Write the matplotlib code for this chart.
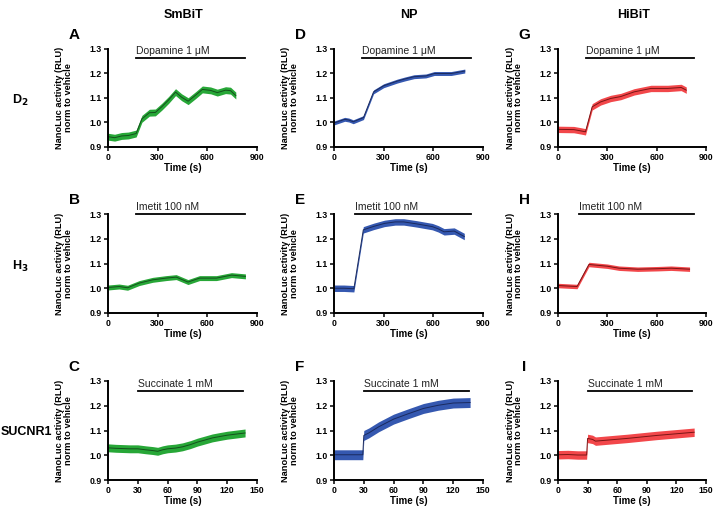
import matplotlib
matplotlib.use("Agg")
import matplotlib.pyplot as plt
import numpy as np

plt.rcParams['font.family'] = ['Liberation Sans', 'DejaVu Sans']

# ---- data (time in s, normalised NanoLuc activity) ----
# D2 / dopamine 1 uM
A_t = [0, 40, 82, 123, 170, 205, 250, 286, 326, 366, 408, 445, 484, 530, 570, 620, 660, 710, 740, 772]
A_y = [0.942, 0.938, 0.945, 0.947, 0.955, 1.015, 1.040, 1.041, 1.065, 1.092, 1.124, 1.103, 1.087, 1.112, 1.135, 1.131, 1.122, 1.132, 1.130, 1.110]
D_t = [0, 65, 90, 116, 178, 239, 300, 382, 430, 484, 555, 606, 708, 790]
D_y = [0.998, 1.013, 1.010, 1.003, 1.020, 1.125, 1.150, 1.169, 1.178, 1.187, 1.190, 1.200, 1.200, 1.210]
G_t = [0, 96, 137, 167, 208, 259, 320, 382, 463, 565, 667, 749, 780]
G_y = [0.972, 0.971, 0.966, 0.962, 1.064, 1.084, 1.098, 1.106, 1.125, 1.139, 1.139, 1.143, 1.132]

# H3 / imetit 100 nM
B_t = [0, 67, 118, 189, 270, 351, 412, 483, 553, 655, 746, 830]
B_y = [1.003, 1.007, 1.002, 1.021, 1.034, 1.041, 1.045, 1.025, 1.041, 1.041, 1.053, 1.048]
E_t = [0, 60, 120, 177, 240, 305, 370, 421, 500, 594, 630, 665, 726, 787]
E_y = [1.000, 1.000, 0.998, 1.236, 1.250, 1.262, 1.268, 1.268, 1.260, 1.249, 1.240, 1.228, 1.231, 1.209]
H_t = [0, 116, 188, 300, 371, 484, 606, 688, 800]
H_y = [1.011, 1.007, 1.096, 1.089, 1.081, 1.077, 1.079, 1.081, 1.077]

# SUCNR1 / succinate 1 mM
C_t = [0, 8, 15, 22, 30, 38, 45, 50, 55, 60, 68, 75, 83, 90, 98, 105, 113, 120, 128, 138]
C_y = [1.030, 1.028, 1.027, 1.026, 1.026, 1.022, 1.019, 1.016, 1.022, 1.026, 1.029, 1.034, 1.043, 1.053, 1.062, 1.070, 1.076, 1.081, 1.085, 1.090]
F_t = [0, 10, 20, 29, 30, 35, 45, 60, 75, 90, 105, 120, 137]
F_y = [1.002, 1.002, 1.002, 1.002, 1.080, 1.090, 1.115, 1.146, 1.168, 1.189, 1.202, 1.211, 1.213]
I_t = [0, 10, 20, 29, 30, 35, 38, 70, 100, 138]
I_y = [1.002, 1.003, 1.001, 1.001, 1.068, 1.064, 1.057, 1.068, 1.080, 1.093]

sem = {'A': 0.014, 'B': 0.010, 'C': 0.016, 'D': 0.008, 'E': 0.013,
       'F': 0.020, 'G': 0.013, 'H': 0.009, 'I': 0.017}

columns = ['SmBiT', 'NP', 'HiBiT']
rows = ['D$_{\\mathbf{2}}$', 'H$_{\\mathbf{3}}$', 'SUCNR1']
treatments = ['Dopamine 1 μM', 'Imetit 100 nM', 'Succinate 1 mM']
bars = {'A': (170, 830), 'D': (170, 830), 'G': (170, 830),
        'B': (170, 830), 'E': (125, 830), 'H': (125, 830),
        'C': (30, 136), 'F': (30, 136), 'I': (30, 136)}
bar_y = [1.263, 1.30, 1.26]

series = {'A': (A_t, A_y), 'B': (B_t, B_y), 'C': (C_t, C_y),
          'D': (D_t, D_y), 'E': (E_t, E_y), 'F': (F_t, F_y),
          'G': (G_t, G_y), 'H': (H_t, H_y), 'I': (I_t, I_y)}
letters = [['A', 'D', 'G'], ['B', 'E', 'H'], ['C', 'F', 'I']]

band_col = ['#27a737', '#3558b0', '#f2474a']
line_col = ['#14501c', '#1a2a5e', '#7a1515']

W, H = 713, 507
fig = plt.figure(figsize=(W / 100, H / 100), dpi=100)

col_x = [108, 334, 558]
col_w = [149, 149, 148]
row_top = [49, 214, 381]
row_bot = [147, 313, 480]

for r in range(3):
    for c in range(3):
        key = letters[r][c]
        ax = fig.add_axes([col_x[c] / W, 1 - row_bot[r] / H,
                           col_w[c] / W, (row_bot[r] - row_top[r]) / H])
        t, y = series[key]
        t = np.array(t, dtype=float)
        y = np.array(y)
        ax.fill_between(t, y - sem[key], y + sem[key], color=band_col[c], lw=0)
        ax.plot(t, y, color=line_col[c], lw=0.7)

        x0, x1 = bars[key]
        ax.plot([x0, x1], [bar_y[r], bar_y[r]], color='black', lw=1.3, clip_on=False)
        ax.text(x0, bar_y[r] + 0.008, treatments[r], fontsize=7.5, color='#222222',
                ha='left', va='bottom')

        if r < 2:
            ax.set_xlim(0, 900)
            ax.set_xticks([0, 300, 600, 900])
        else:
            ax.set_xlim(0, 150)
            ax.set_xticks([0, 30, 60, 90, 120, 150])
        ax.set_ylim(0.9, 1.3)
        ax.set_yticks([0.9, 1.0, 1.1, 1.2, 1.3])
        ax.set_yticklabels(['0.9', '1.0', '1.1', '1.2', '1.3'])

        for s in ['top', 'right']:
            ax.spines[s].set_visible(False)
        for s in ['left', 'bottom']:
            ax.spines[s].set_linewidth(1.4)
        ax.tick_params(direction='out', length=3, width=1.1, pad=1.2, labelsize=6.3)
        for lab in ax.get_xticklabels() + ax.get_yticklabels():
            lab.set_fontweight('bold')

        ax.set_xlabel('Time (s)', fontsize=7, fontweight='bold', labelpad=0.5)
        ax.set_ylabel('NanoLuc activity (RLU)\nnorm to vehicle', fontsize=6.7,
                      fontweight='bold', linespacing=0.95)
        ax.yaxis.set_label_coords(-0.235, 0.5)

        # panel letter
        fig.text((col_x[c] - 34) / W, 1 - (row_top[r] - 14) / H, key,
                 fontsize=11, fontweight='bold', ha='center', va='center')

for c, name in enumerate(columns):
    fig.text([184, 409, 634][c] / W, 1 - 15 / H, name, fontsize=9,
             fontweight='bold', ha='center', va='center')

for r, name in enumerate(rows):
    fig.text([20, 20, 26][r] / W, 1 - [100, 266, 432][r] / H, name, fontsize=9,
             fontweight='bold', ha='center', va='center')

fig.savefig('out.png', dpi=100)
plt.close(fig)
